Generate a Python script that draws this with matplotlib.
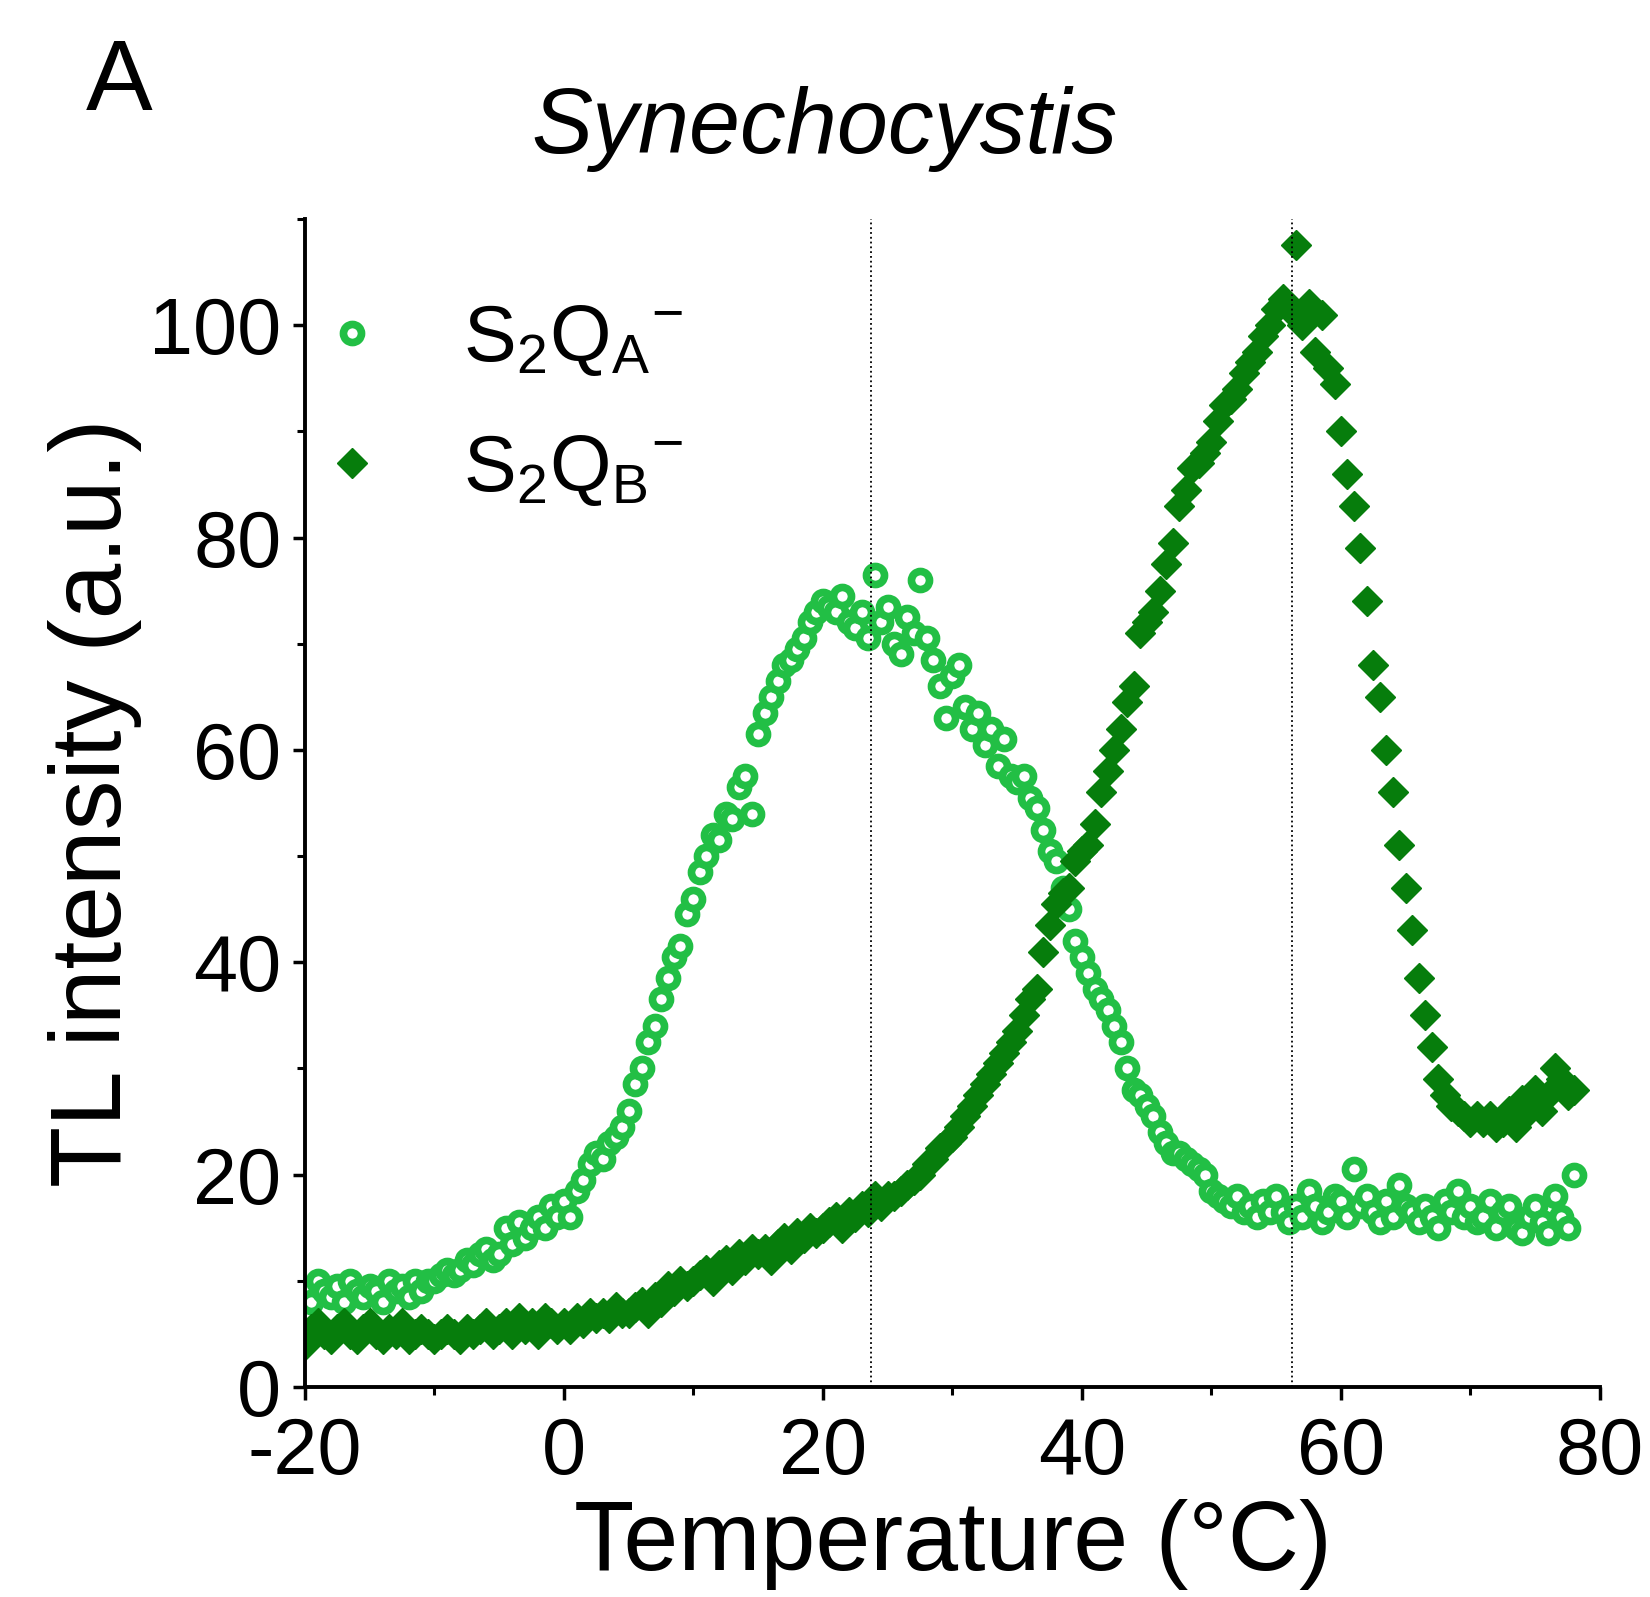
import numpy as np
import matplotlib
matplotlib.use("Agg")
from matplotlib import pyplot as plt
from matplotlib.ticker import MultipleLocator, FuncFormatter

plt.rcParams['font.family'] = ['Liberation Sans', 'DejaVu Sans']
plt.rcParams['mathtext.fontset'] = 'custom'
plt.rcParams['mathtext.rm'] = 'Liberation Sans'
plt.rcParams['mathtext.it'] = 'Liberation Sans:italic'

# temperature grid of the TL scans (deg C)
temp = np.arange(-20, 78.5, 0.5)

# S2QA- (open circles)
tl_qa = [
    9, 8, 10, 9, 8.5, 9.5, 8, 10, 9, 8.5,
    9.5, 9, 8, 10, 9, 9.5, 8.5, 10, 9, 10,
    10, 10.5, 11, 10.5, 11, 12, 11.5, 12.5, 13, 12,
    12.5, 15, 13.5, 15.5, 14, 15, 16, 15, 17, 16,
    17.5, 16, 18.5, 19.5, 21, 22, 21.5, 23, 23.5, 24.5,
    26, 28.5, 30, 32.5, 34, 36.5, 38.5, 40.5, 41.5, 44.5,
    46, 48.5, 50, 52, 51.5, 54, 53.5, 56.5, 57.5, 54,
    61.5, 63.5, 65, 66.5, 68, 68.5, 69.5, 70.5, 72, 73,
    74, 73.5, 73, 74.5, 72, 71.5, 73, 70.5, 76.5, 72,
    73.5, 70, 69, 72.5, 71, 76, 70.5, 68.5, 66, 63,
    67, 68, 64, 62, 63.5, 60.5, 62, 58.5, 61, 57.5,
    57, 57.5, 55.5, 54.5, 52.5, 50.5, 49.5, 47, 45, 42,
    40.5, 39, 37.5, 36.5, 35.5, 34, 32.5, 30, 28, 27.5,
    26.5, 25.5, 24, 23, 22, 22, 21.5, 21, 20.5, 20,
    18.5, 18, 17.5, 17, 18, 16.5, 17, 16, 17.5, 16.5,
    18, 16.5, 15.5, 17, 16, 18.5, 17, 15.5, 16.5, 18,
    17.5, 16, 20.5, 17, 18, 16.5, 15.5, 17.5, 16, 19,
    17, 16.5, 15.5, 17, 16, 15, 17.5, 16.5, 18.5, 16,
    17, 15.5, 16, 17.5, 15, 16.5, 17, 15, 14.5, 16,
    17, 15.5, 14.5, 18, 16, 15, 20,
]

# S2QB- (filled diamonds)
tl_qb = [
    4, 5.5, 6, 5, 4.5, 5.5, 6, 5, 4.5, 5.5,
    6, 5, 4.5, 5.5, 5, 6, 4.5, 5, 5.5, 5,
    4.5, 5, 5.5, 5, 4.5, 5.5, 5, 5.5, 6, 5,
    5.5, 6, 5, 6.5, 5.5, 6, 5, 6.5, 6, 5.5,
    6, 5.5, 6.5, 6, 7, 6.5, 7, 6.5, 7.5, 7,
    7, 7.5, 8, 7, 8.5, 8, 9.5, 9, 10, 9.5,
    10, 10.5, 11, 10, 11.5, 12, 11, 12.5, 12, 13,
    12.5, 13, 12, 13.5, 14, 13, 14.5, 14, 15, 14.5,
    15, 15.5, 16, 15, 16.5, 16, 17, 16.5, 18, 17,
    18, 18, 18.5, 19, 19.5, 20, 21, 21.5, 22.5, 23,
    23.5, 24.5, 25.5, 26.5, 27.5, 28.5, 29.5, 30.5, 31.5, 32.5,
    33.5, 35, 36.5, 37.5, 41, 43.5, 45.5, 46.5, 47, 49.5,
    50.5, 51, 53, 56, 58, 60, 62, 64.5, 66, 71,
    72, 73, 75, 77.5, 79.5, 83, 84.5, 86.5, 87, 88,
    89, 91, 92.5, 93, 94, 95.5, 96.5, 97.5, 99, 100,
    101.5, 102.5, 101.5, 107.5, 100, 102, 97.5, 101, 96, 94.5,
    90, 86, 83, 79, 74, 68, 65, 60, 56, 51,
    47, 43, 38.5, 35, 32, 29, 27.5, 26.5, 26, 25.5,
    25, 25.5, 25, 25.5, 24.5, 25, 26, 24.5, 27, 26,
    28, 26, 27.5, 30, 29, 27.5, 28,
]

# peak positions (dotted guides)
peaks = [23.7, 56.2]

fig = plt.figure(figsize=(16.5, 15.97), dpi=100)
ax = fig.add_axes([0.1848, 0.1315, 0.7849, 0.7314])

ax.plot(temp, tl_qa, linestyle='none', marker='o', ms=13, mew=5.5,
        mfc='white', mec='#22bf45', label=r'$\mathregular{S_2Q_A{}^{-}}$')
ax.plot(temp, tl_qb, linestyle='none', marker='D', ms=15, mew=1,
        mfc='#067d0c', mec='#067d0c', label=r'$\mathregular{S_2Q_B{}^{-}}$')

for p in peaks:
    ax.axvline(p, color='black', linestyle=':', lw=1.3, zorder=5)

ax.set_xlim(-20, 80)
ax.set_ylim(0, 110)
ax.xaxis.set_major_locator(MultipleLocator(20))
ax.xaxis.set_minor_locator(MultipleLocator(10))
ax.yaxis.set_major_locator(MultipleLocator(20))
ax.yaxis.set_minor_locator(MultipleLocator(10))
fmt = FuncFormatter(lambda v, pos: '%d' % v)
ax.xaxis.set_major_formatter(fmt)
ax.yaxis.set_major_formatter(fmt)

for s in ['top', 'right']:
    ax.spines[s].set_visible(False)
for s in ['left', 'bottom']:
    ax.spines[s].set_linewidth(2.8)

ax.tick_params(which='major', direction='out', length=9, width=2.5,
               labelsize=57, pad=8)
ax.tick_params(axis='x', which='major', pad=12)
ax.tick_params(which='minor', direction='out', length=6, width=2.2)

ax.set_xlabel('Temperature (°C)', fontsize=71, labelpad=6)
ax.set_ylabel('TL intensity (a.u.)', fontsize=72, labelpad=5)

ax.legend(loc='upper left', bbox_to_anchor=(0.006, 0.928), frameon=False,
          fontsize=57, handlelength=1.0, handletextpad=0.9,
          labelspacing=0.69, borderaxespad=0, borderpad=0)

fig.text(0.5, 0.904, 'Synechocystis', fontsize=66, style='italic',
         ha='center', va='baseline')
fig.text(0.052, 0.931, 'A', fontsize=72, ha='left', va='baseline')

fig.savefig('out.png', dpi=100)
